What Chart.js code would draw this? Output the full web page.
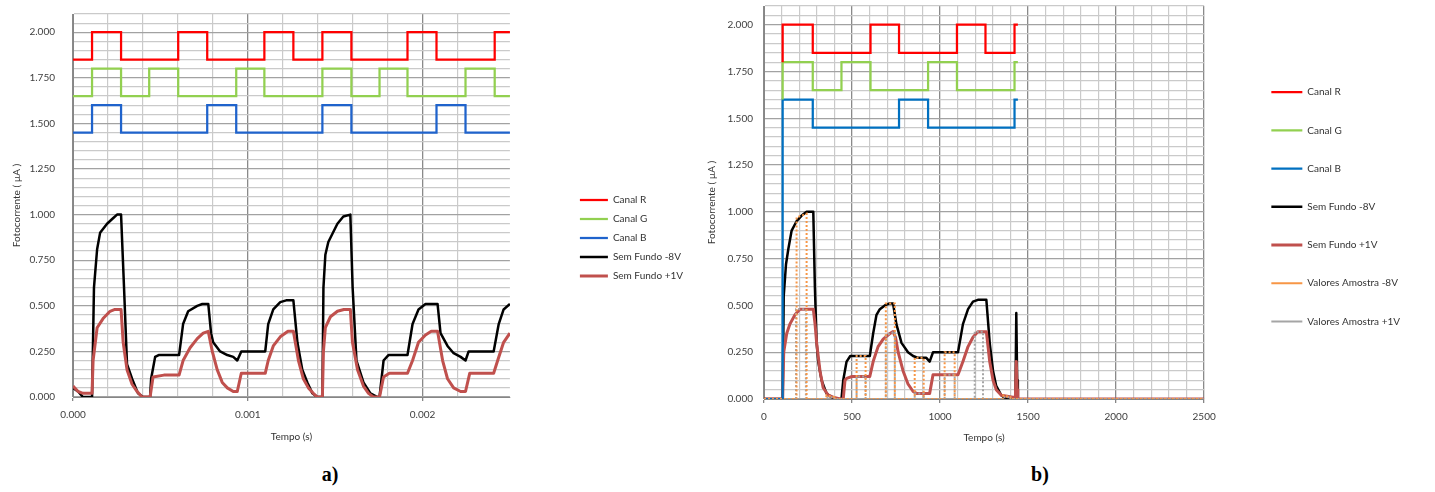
<!DOCTYPE html>
<html>
<head>
<meta charset="utf-8">
<script src="https://cdn.jsdelivr.net/npm/chart.js@4/dist/chart.umd.min.js"></script>
<style>
  body { margin: 0; background: #fff; }
  #wrap { position: relative; width: 1435px; height: 492px; }
  canvas { position: absolute; top: 0; }
  #graphA { left: 0; }
  #graphB { left: 695px; }
  .cap { position: absolute; top: 463px; width: 60px; text-align: center; font: bold 20px "Liberation Serif", "DejaVu Serif", serif; color: #000; }
</style>
</head>
<body>
<div id="wrap">
  <canvas id="graphA" width="700" height="460"></canvas>
  <canvas id="graphB" width="740" height="460"></canvas>
  <div class="cap" style="left:300px">a)</div>
  <div class="cap" style="left:1010px">b)</div>
</div>
<script>
// ---- a) tempo (s) ----
var rEdgeA  = [0, 0.000109, 0.000275, 0.000602, 0.000768, 0.001095, 0.001261, 0.001427, 0.001593, 0.001914, 0.002080, 0.002413, 0.0025];
var rLevelA = [1.85, 2.0, 1.85, 2.0, 1.85, 2.0, 1.85, 2.0, 1.85, 2.0, 1.85, 2.0, 2.0];
var gEdgeA  = [0, 0.000109, 0.000275, 0.000436, 0.000602, 0.000934, 0.001095, 0.001427, 0.001593, 0.001754, 0.001914, 0.002246, 0.002413, 0.0025];
var gLevelA = [1.65, 1.8, 1.65, 1.8, 1.65, 1.8, 1.65, 1.8, 1.65, 1.8, 1.65, 1.8, 1.65, 1.65];
var bEdgeA  = [0, 0.000109, 0.000275, 0.000768, 0.000934, 0.001427, 0.001593, 0.002080, 0.002246, 0.0025];
var bLevelA = [1.45, 1.6, 1.45, 1.6, 1.45, 1.6, 1.45, 1.6, 1.45, 1.45];

var tSemFundo8A = [0, 0.000029, 0.000057, 0.000109, 0.000120, 0.000138, 0.000155, 0.000195, 0.000229, 0.000252,
  0.000275, 0.000292, 0.000309, 0.000338, 0.000372, 0.000401, 0.000441, 0.000447, 0.000470, 0.000490,
  0.000607, 0.000630, 0.000659, 0.000711, 0.000740, 0.000774, 0.000790, 0.000802, 0.000842, 0.000883,
  0.000917, 0.000940, 0.000963, 0.001100, 0.001117, 0.001146, 0.001186, 0.001220, 0.001261, 0.001284,
  0.001312, 0.001341, 0.001370, 0.001398, 0.001427, 0.001433, 0.001444, 0.001461, 0.001513, 0.001547,
  0.001587, 0.001600, 0.001622, 0.001662, 0.001702, 0.001742, 0.001754, 0.001777, 0.001805, 0.001914,
  0.001943, 0.001977, 0.002017, 0.002086, 0.002103, 0.002143, 0.002178, 0.002218, 0.002246, 0.002264,
  0.002407, 0.002436, 0.002464, 0.0025];
var vSemFundo8A = [0.05, 0.03, 0, 0, 0.6, 0.81, 0.9, 0.95, 0.98, 1.0,
  1.0, 0.6, 0.18, 0.1, 0.02, 0, 0, 0.1, 0.22, 0.23,
  0.23, 0.4, 0.47, 0.5, 0.51, 0.51, 0.35, 0.3, 0.25, 0.23,
  0.22, 0.2, 0.25, 0.25, 0.4, 0.48, 0.52, 0.53, 0.53, 0.3,
  0.15, 0.08, 0.02, 0, 0, 0.6, 0.78, 0.85, 0.95, 0.99,
  1.0, 0.6, 0.2, 0.08, 0.02, 0, 0, 0.2, 0.23, 0.23,
  0.4, 0.48, 0.51, 0.51, 0.35, 0.28, 0.24, 0.22, 0.2, 0.25,
  0.25, 0.4, 0.48, 0.51];

var tSemFundo1A = [0, 0.000029, 0.000057, 0.000109, 0.000115, 0.000138, 0.000172, 0.000212, 0.000240, 0.000275,
  0.000287, 0.000309, 0.000338, 0.000367, 0.000395, 0.000441, 0.000458, 0.000520, 0.000607, 0.000630,
  0.000670, 0.000711, 0.000745, 0.000774, 0.000797, 0.000825, 0.000854, 0.000883, 0.000917, 0.000940,
  0.000963, 0.001100, 0.001117, 0.001146, 0.001186, 0.001230, 0.001261, 0.001290, 0.001318, 0.001347,
  0.001375, 0.001398, 0.001427, 0.001433, 0.001444, 0.001473, 0.001513, 0.001550, 0.001587, 0.001599,
  0.001628, 0.001662, 0.001691, 0.001719, 0.001754, 0.001777, 0.001810, 0.001914, 0.001943, 0.001977,
  0.002017, 0.002050, 0.002086, 0.002115, 0.002143, 0.002178, 0.002218, 0.002246, 0.002270, 0.002407,
  0.002430, 0.002464, 0.0025];
var vSemFundo1A = [0.06, 0.03, 0.02, 0.02, 0.2, 0.38, 0.43, 0.47, 0.48, 0.48,
  0.3, 0.15, 0.07, 0.03, 0, 0, 0.11, 0.12, 0.12, 0.2,
  0.27, 0.32, 0.35, 0.36, 0.25, 0.15, 0.08, 0.05, 0.03, 0.03,
  0.13, 0.13, 0.2, 0.28, 0.33, 0.36, 0.36, 0.2, 0.1, 0.05,
  0.02, 0, 0, 0.25, 0.38, 0.44, 0.47, 0.48, 0.48, 0.3,
  0.15, 0.06, 0.02, 0, 0, 0.11, 0.13, 0.13, 0.2, 0.3,
  0.34, 0.36, 0.36, 0.2, 0.1, 0.05, 0.03, 0.03, 0.13, 0.13,
  0.2, 0.3, 0.35];

// ---- b) tempo (s) ----
var rEdgeB  = [106, 106, 277, 605, 767, 1096, 1258, 1423, 1442];
var rLevelB = [1.8, 2.0, 1.85, 2.0, 1.85, 2.0, 1.85, 2.0, 2.0];
var gEdgeB  = [106, 106, 277, 440, 605, 932, 1096, 1423, 1442];
var gLevelB = [1.6, 1.8, 1.65, 1.8, 1.65, 1.8, 1.65, 1.8, 1.8];
var bEdgeB  = [0, 106, 277, 767, 932, 1423, 1442];
var bLevelB = [0, 1.6, 1.45, 1.6, 1.45, 1.6, 1.6];

var tSemFundo8B = [0, 106, 112, 125, 138, 157, 185, 214, 242, 280,
  289, 299, 308, 327, 355, 384, 403, 440, 450, 469,
  490, 601, 620, 639, 658, 686, 710, 733, 752, 781,
  818, 847, 875, 922, 941, 960, 1102, 1130, 1159, 1187,
  1215, 1263, 1282, 1301, 1319, 1348, 1376, 1428, 1433, 1438, 1442];
var vSemFundo8B = [0, 0, 0.55, 0.72, 0.8, 0.9, 0.95, 0.98, 1.0, 1.0,
  0.6, 0.3, 0.2, 0.1, 0.03, 0.01, 0, 0, 0.1, 0.2,
  0.23, 0.23, 0.35, 0.45, 0.48, 0.5, 0.51, 0.51, 0.4, 0.3,
  0.25, 0.23, 0.22, 0.22, 0.2, 0.25, 0.25, 0.4, 0.48, 0.52,
  0.53, 0.53, 0.3, 0.15, 0.07, 0.02, 0, 0, 0.46, 0.1, 0];

var tSemFundo1B = [0, 106, 112, 129, 147, 176, 204, 280, 290, 299,
  318, 336, 365, 393, 431, 450, 460, 469, 500, 601,
  620, 648, 677, 715, 733, 747, 762, 790, 818, 847,
  866, 941, 960, 1102, 1130, 1159, 1187, 1215, 1263, 1282,
  1301, 1319, 1348, 1414, 1428, 1433, 1438, 1442, 2500];
var vSemFundo1B = [0, 0, 0.25, 0.35, 0.4, 0.45, 0.48, 0.48, 0.4, 0.3,
  0.15, 0.06, 0.02, 0.01, 0, 0, 0.1, 0.11, 0.12, 0.12,
  0.2, 0.28, 0.32, 0.35, 0.36, 0.33, 0.25, 0.15, 0.08, 0.04,
  0.03, 0.03, 0.13, 0.13, 0.2, 0.28, 0.33, 0.36, 0.36, 0.2,
  0.1, 0.05, 0.02, 0.01, 0.01, 0.2, 0.05, 0, 0];

var tAmostra8B = [0, 185, 185, 242, 242, 355, 355, 400, 400, 526, 526, 577, 577, 692, 692, 743, 743,
  856, 856, 907, 907, 1026, 1026, 1083, 1083, 1360, 1360, 1400, 1400, 2500];
var vAmostra8B = [0, 0, 0.97, 0.99, 0, 0, 0.02, 0.01, 0, 0, 0.23, 0.23, 0, 0, 0.51, 0.51, 0,
  0, 0.22, 0.22, 0, 0, 0.25, 0.25, 0, 0, 0.02, 0.01, 0, 0];
var tAmostra1B = [0, 182, 182, 238, 238, 355, 355, 400, 400, 526, 526, 577, 577, 692, 692, 743, 743,
  856, 856, 907, 907, 1026, 1026, 1083, 1083, 1197, 1197, 1244, 1244, 1360, 1360, 1400, 1400, 2500];
var vAmostra1B = [0, 0, 0.48, 0.48, 0, 0, 0.01, 0.01, 0, 0, 0.12, 0.12, 0, 0, 0.34, 0.36, 0,
  0, 0.03, 0.03, 0, 0, 0.13, 0.13, 0, 0, 0.36, 0.36, 0, 0, 0.01, 0.01, 0, 0];

var yTitle = 'Fotocorrente ( µA )';
var xTitle = 'Tempo (s)';

Chart.defaults.font.family = 'Lato, "Open Sans", sans-serif';
Chart.defaults.font.size = 10;
Chart.defaults.color = '#404040';

function isMultiple(v, step) {
  return Math.abs(v / step - Math.round(v / step)) < 1e-6;
}

function toPoints(xs, ys) {
  return xs.map(function (x, i) { return {x: x, y: ys[i]}; });
}

function serie(label, xs, ys, color, width, order, extra) {
  return Object.assign({
    label: label,
    data: toPoints(xs, ys),
    borderColor: color,
    backgroundColor: color,
    borderWidth: width,
    pointRadius: 0,
    fill: false,
    tension: 0,
    borderJoinStyle: 'round',
    order: order,
    yAxisID: 'y'
  }, extra || {});
}

function makeOptions(cfg) {
  return {
    responsive: false,
    animation: false,
    layout: { padding: { left: 5, right: cfg.padRight, top: cfg.padTop, bottom: cfg.padBottom } },
    plugins: {
      tooltip: { enabled: false },
      legend: {
        position: 'right',
        align: 'start',
        maxWidth: 300,
        title: { display: true, text: '', font: { size: 10 }, padding: { top: cfg.legendTop, bottom: 0 } },
        labels: {
          usePointStyle: true,
          pointStyle: 'line',
          pointStyleWidth: cfg.legendLine,
          padding: cfg.legendPad,
          color: '#333333',
          font: { size: 10 },
          sort: function (a, b) { return a.datasetIndex - b.datasetIndex; }
        }
      }
    },
    scales: {
      x: {
        type: 'linear',
        min: cfg.xMin,
        max: cfg.xMax,
        ticks: {
          stepSize: cfg.xStep,
          autoSkip: false,
          maxRotation: 0,
          padding: 8,
          callback: cfg.xLabel
        },
        grid: {
          drawTicks: true,
          tickLength: 4,
          tickColor: function (c) { return isMultiple(c.tick.value, cfg.xMajor) ? '#868686' : 'rgba(0,0,0,0)'; },
          lineWidth: function (c) { return isMultiple(c.tick.value, cfg.xMajor) ? 1.3 : 1.2; },
          color: function (c) {
            var v = c.tick.value;
            if (isMultiple(v, cfg.xMajor)) return '#8a8a8a';
            if (isMultiple(v, cfg.xStep)) return '#cacaca';
            return 'rgba(0,0,0,0)';
          }
        },
        border: { color: '#868686' },
        title: { display: true, text: xTitle, color: '#333333', font: { size: 10 }, padding: { top: 0, bottom: 0 } },
        afterFit: function (s) { s.height = cfg.xHeight; }
      },
      y: {
        min: 0,
        max: 2.1,
        ticks: {
          stepSize: 0.05,
          autoSkip: false,
          padding: cfg.yTickPad,
          callback: function (v) { return isMultiple(v, 0.25) ? v.toFixed(3) : ''; }
        },
        grid: {
          drawTicks: false,
          lineWidth: 1.2,
          color: function (c) { return isMultiple(c.tick.value, 0.25) ? '#a2a2a2' : '#cacaca'; }
        },
        border: { color: '#868686' },
        title: { display: true, text: yTitle, color: '#333333', font: { size: 10 }, padding: { top: 6, bottom: 0 } },
        afterFit: function (s) {
          s.width = cfg.yWidth;
          s.paddingTop = 0;
          s.paddingBottom = 0;
        }
      },
      gap: {
        type: 'linear',
        position: 'right',
        min: 0,
        max: 1,
        display: true,
        ticks: { display: false },
        grid: { display: false, drawTicks: false },
        border: { display: false },
        afterFit: function (s) { s.width = cfg.gapWidth; }
      }
    }
  };
}

var ctxA = document.getElementById('graphA').getContext('2d');

var dataA = {
  datasets: [
    serie('Canal R', rEdgeA, rLevelA, '#ff0000', 2.25, 1, { stepped: true, borderJoinStyle: 'miter' }),
    serie('Canal G', gEdgeA, gLevelA, '#92d050', 2.25, 1, { stepped: true, borderJoinStyle: 'miter' }),
    serie('Canal B', bEdgeA, bLevelA, '#1f63cc', 2.25, 1, { stepped: true, borderJoinStyle: 'miter' }),
    serie('Sem Fundo -8V', tSemFundo8A, vSemFundo8A, '#000000', 2.5, 3),
    serie('Sem Fundo +1V', tSemFundo1A, vSemFundo1A, '#c0504d', 3, 2)
  ]
};

var graphA = new Chart(ctxA, {
  type: 'line',
  data: dataA,
  options: makeOptions({
    xMin: 0, xMax: 0.0025, xStep: 0.0002, xMajor: 0.001,
    xLabel: function (v) { return isMultiple(v, 0.001) ? v.toFixed(3) : ''; },
    xHeight: 46,
    yWidth: 68,
    yTickPad: 18,
    padTop: 14, padBottom: 17, padRight: 7,
    legendTop: 160, legendPad: 9, legendLine: 28,
    gapWidth: 61
  })
});

var ctxB = document.getElementById('graphB').getContext('2d');

var dataB = {
  datasets: [
    serie('Canal R', rEdgeB, rLevelB, '#ff0000', 2.25, 1, { stepped: true, borderJoinStyle: 'miter' }),
    serie('Canal G', gEdgeB, gLevelB, '#92d050', 2.25, 1, { stepped: true, borderJoinStyle: 'miter' }),
    serie('Canal B', bEdgeB, bLevelB, '#0070c0', 2.25, 1, { stepped: true, borderJoinStyle: 'miter' }),
    serie('Sem Fundo -8V', tSemFundo8B, vSemFundo8B, '#000000', 2.5, 3),
    serie('Sem Fundo +1V', tSemFundo1B, vSemFundo1B, '#c0504d', 3, 2),
    serie('Valores Amostra -8V', tAmostra8B, vAmostra8B, '#f79646', 2, 0, { borderDash: [2, 2], borderJoinStyle: 'miter' }),
    serie('Valores Amostra +1V', tAmostra1B, vAmostra1B, '#a5a5a5', 2, 0, { borderDash: [2, 2], borderJoinStyle: 'miter' })
  ]
};

var graphB = new Chart(ctxB, {
  type: 'line',
  data: dataB,
  options: makeOptions({
    xMin: 0, xMax: 2500, xStep: 100, xMajor: 500,
    xLabel: function (v) { return isMultiple(v, 500) ? String(v) : ''; },
    xHeight: 45,
    yWidth: 64,
    yTickPad: 11,
    padTop: 6, padBottom: 16, padRight: 25,
    legendTop: 41, legendPad: 28.2, legendLine: 31,
    gapWidth: 39
  })
});
</script>
</body>
</html>
